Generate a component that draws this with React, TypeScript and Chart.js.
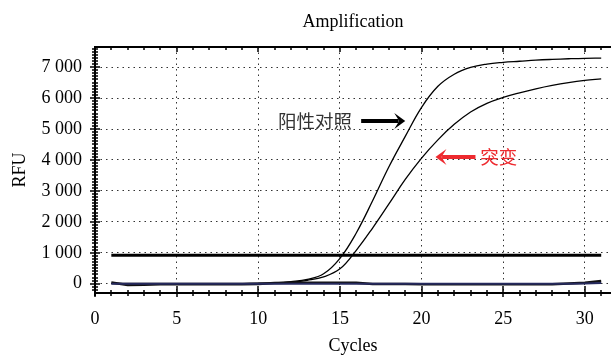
import React, { useEffect, useRef } from 'react';
import { Chart, registerables } from 'chart.js';

Chart.register(...registerables);

// ---- data ----
const cycles = [1, 2, 3, 4, 5, 6, 7, 8, 9, 10, 11, 12, 13, 14, 15, 16, 17, 18, 19, 20, 21, 22, 23, 24, 25, 26, 27, 28, 29, 30, 31];
const positiveControl = [10, 10, 10, 10, 10, 10, 10, 10, 10, 15, 30, 70, 140, 320, 820, 1640, 2680, 3780, 4760, 5700, 6380, 6770, 6990, 7100, 7155, 7190, 7225, 7250, 7270, 7285, 7290];
const mutant = [5, 5, 5, 5, 5, 5, 5, 5, 5, 10, 20, 50, 110, 220, 480, 1080, 1800, 2580, 3370, 4060, 4650, 5150, 5550, 5830, 6020, 6170, 6300, 6410, 6500, 6570, 6620];
const negativeA = [40, -40, -30, -20, -20, -20, -20, -20, -20, -10, 20, 30, 30, 30, 30, 30, -10, -10, -10, -20, -20, -20, -20, -20, -20, -20, -20, -20, 10, 30, 90];
const negativeB = [0, 0, 0, 0, 0, 0, 0, 0, 0, 0, 0, 0, 0, 0, 0, 0, 0, 0, 0, 0, 0, 0, 0, 0, 0, 0, 0, 0, 0, 10, 20];
const thresholdValues = [920, 920];
const thresholdCycles = [1, 31];
const xTickValues = [0, 5, 10, 15, 20, 25, 30];
const yTickValues = [0, 1000, 2000, 3000, 4000, 5000, 6000, 7000];
const annotationLabels = ['阳性对照', '突变'];

const SERIF = "'Liberation Serif', 'Times New Roman', serif";
const CJK = "'Noto Sans CJK SC', sans-serif";

const fmt = (v: number) => {
  if (v === 0) return '0';
  const th = Math.floor(v / 1000);
  const rest = v % 1000;
  return th > 0 ? `${th} ${String(rest).padStart(3, '0')}` : String(v);
};

const toXY = (xs: number[], ys: number[]) => xs.map((x, i) => ({ x, y: ys[i] }));

function drawArrow(ctx: CanvasRenderingContext2D, x1: number, x2: number, yIn: number, color: string) {
  // x2 is the tip
  const y = Math.round(yIn);
  const dir = Math.sign(x2 - x1);
  const headLen = 11;
  ctx.save();
  ctx.setLineDash([]);
  ctx.fillStyle = color;
  ctx.fillRect(Math.min(x1, x2 - dir * headLen * 0.6), y - 2, Math.abs(x2 - dir * headLen * 0.6 - x1), 4);
  ctx.beginPath();
  ctx.moveTo(x2, y);
  ctx.lineTo(x2 - dir * headLen, y - 8);
  ctx.lineTo(x2 - dir * headLen * 0.55, y);
  ctx.lineTo(x2 - dir * headLen, y + 8);
  ctx.closePath();
  ctx.fill();
  ctx.restore();
}

const decorPlugin = {
  id: 'decor',
  afterDatasetsDraw(chart: any) {
    const { ctx, chartArea: a, scales } = chart;
    const x = scales.x;
    const y = scales.y;
    ctx.save();
    ctx.setLineDash([]);
    ctx.strokeStyle = '#000';
    ctx.lineWidth = 2;
    ctx.beginPath();
    ctx.moveTo(a.left - 1, a.top);
    ctx.lineTo(a.right, a.top);
    ctx.moveTo(a.left, a.top - 1);
    ctx.lineTo(a.left, a.bottom + 3);
    ctx.moveTo(a.left - 1, a.bottom);
    ctx.lineTo(a.right, a.bottom);
    ctx.stroke();

    ctx.lineWidth = 1.5;
    ctx.beginPath();
    for (let c = 0; c <= Math.floor(x.max); c++) {
      const px = Math.round(x.getPixelForValue(c));
      const major = c % 5 === 0;
      ctx.moveTo(px, a.bottom - (major ? 7 : 3));
      ctx.lineTo(px, a.bottom + (major ? 4 : 3));
      ctx.moveTo(px, a.top);
      ctx.lineTo(px, a.top + (major ? 5 : 3));
    }
    for (let v = -200; v <= y.max; v += 100) {
      const py = Math.round(y.getPixelForValue(v));
      const major = v % 1000 === 0;
      ctx.moveTo(a.left - (major ? 5 : 3), py);
      ctx.lineTo(a.left + (major ? 5 : 3), py);
    }
    ctx.stroke();

    // annotations (data coordinates)
    const yBlack = y.getPixelForValue(5265);
    drawArrow(ctx, x.getPixelForValue(16.3), x.getPixelForValue(19.0), yBlack, '#000');
    ctx.font = `18.5px ${CJK}`;
    ctx.fillStyle = '#333';
    ctx.textAlign = 'right';
    ctx.textBaseline = 'middle';
    ctx.fillText(annotationLabels[0], x.getPixelForValue(15.74), yBlack);

    const yRed = y.getPixelForValue(4080);
    drawArrow(ctx, x.getPixelForValue(23.3), x.getPixelForValue(20.85), yRed, '#ee2a2f');
    ctx.fillStyle = '#ee2a2f';
    ctx.textAlign = 'left';
    ctx.fillText(annotationLabels[1], x.getPixelForValue(23.6), yRed);
    ctx.restore();
  },
};

export default function App() {
  const ref = useRef<HTMLCanvasElement | null>(null);

  useEffect(() => {
    document.body.style.margin = '0';
    const canvas = ref.current;
    if (!canvas) return;
    const lineCommon = { pointRadius: 0, fill: false };
    const chart = new Chart(canvas, {
      type: 'line',
      data: {
        datasets: [
          { ...lineCommon, label: 'neg B', data: toXY(cycles, negativeB), borderColor: '#262a5e', borderWidth: 2, tension: 0 },
          { ...lineCommon, label: 'neg A', data: toXY(cycles, negativeA), borderColor: '#111', borderWidth: 2.5, tension: 0 },
          { ...lineCommon, label: 'threshold', data: toXY(thresholdCycles, thresholdValues), borderColor: '#000', borderWidth: 3, tension: 0 },
          { ...lineCommon, label: '阳性对照', data: toXY(cycles, positiveControl), borderColor: '#000', borderWidth: 1.3, tension: 0.4 },
          { ...lineCommon, label: '突变', data: toXY(cycles, mutant), borderColor: '#000', borderWidth: 1.3, tension: 0.4 },
        ],
      },
      options: {
        responsive: false,
        maintainAspectRatio: false,
        animation: false,
        devicePixelRatio: 1,
        layout: { padding: 0 },
        plugins: {
          legend: { display: false },
          tooltip: { enabled: false },
          title: {
            display: true,
            text: 'Amplification',
            fullSize: false,
            color: '#000',
            font: { family: SERIF, size: 18, weight: 'normal', lineHeight: 1.2 },
            padding: { top: 11, bottom: 14.4 },
          },
        },
        scales: {
          x: {
            type: 'linear',
            min: 0,
            max: 31.6,
            afterFit: (s: any) => { s.height = 62; },
            afterBuildTicks: (s: any) => { s.ticks = xTickValues.map((v) => ({ value: v })); },
            ticks: { stepSize: 5, includeBounds: false, color: '#000', padding: 15, maxRotation: 0, font: { family: SERIF, size: 18 } },
            grid: { drawTicks: false, color: '#333', lineWidth: 1 },
            border: { display: false, dash: [1.5, 4] },
            title: { display: true, text: 'Cycles', color: '#000', font: { family: SERIF, size: 18, lineHeight: 1 }, padding: { top: 0, bottom: 0 } },
          },
          y: {
            type: 'linear',
            min: -300,
            max: 7650,
            afterFit: (s: any) => { s.width = 95; },
            afterBuildTicks: (s: any) => { s.ticks = yTickValues.map((v) => ({ value: v })); },
            ticks: { stepSize: 1000, includeBounds: false, color: '#000', padding: 13, font: { family: SERIF, size: 18 }, callback: (v: any) => fmt(Number(v)) },
            grid: { drawTicks: false, color: '#333', lineWidth: 1 },
            border: { display: false, dash: [1.5, 4] },
            title: { display: true, text: 'RFU', color: '#000', font: { family: SERIF, size: 18, lineHeight: 1 }, padding: { top: 11, bottom: 0 } },
          },
        },
      } as any,
      plugins: [decorPlugin],
    });
    return () => chart.destroy();
  }, []);

  return (
    <div style={{ width: 611, height: 355 }}>
      <canvas ref={ref} width={611} height={355} style={{ display: 'block', width: 611, height: 355 }} />
    </div>
  );
}
